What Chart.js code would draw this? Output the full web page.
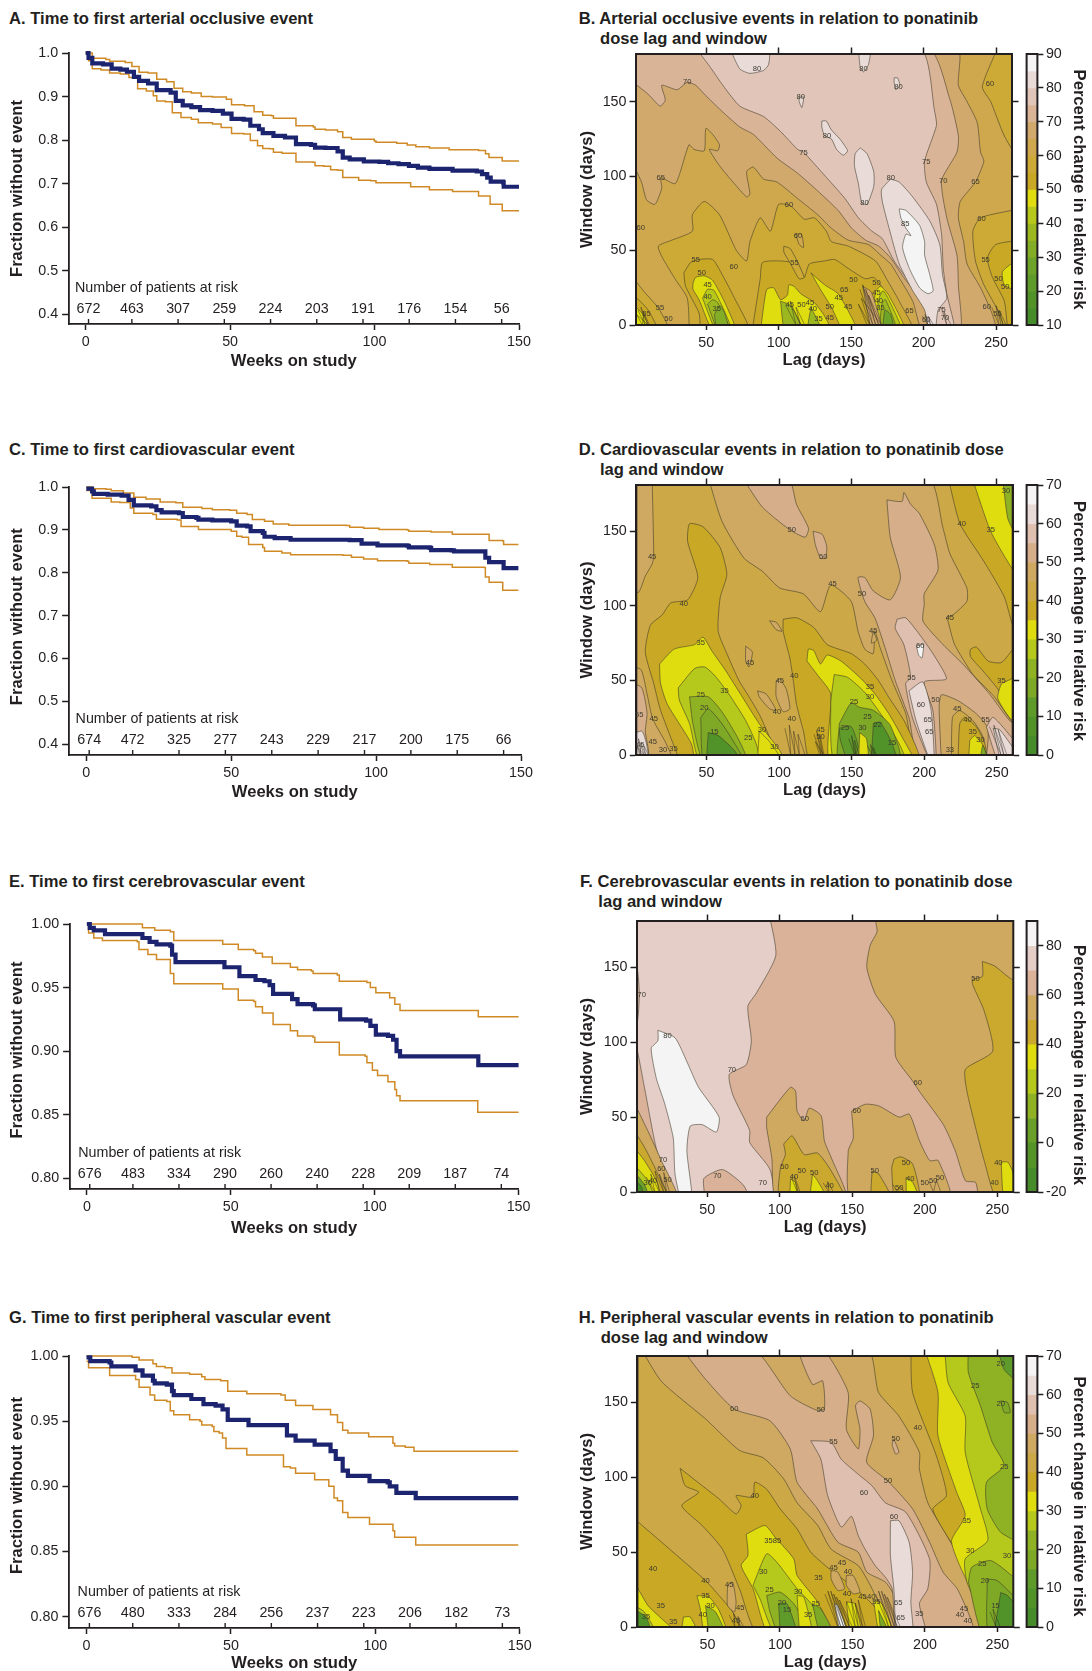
<!DOCTYPE html>
<html>
<head>
<meta charset="utf-8">
<title>Ponatinib events</title>
<script src="https://cdn.jsdelivr.net/npm/chart.js@4"></script>
<style>
  html, body { margin: 0; padding: 0; background: #fff; }
  body { position: relative; width: 1092px; height: 1671px; overflow: hidden; font-family: "Liberation Sans", Arial, sans-serif; color: #231f20; }
  canvas { position: absolute; }
  .ttl { position: absolute; font-weight: bold; font-size: 16.6px; line-height: 1; white-space: nowrap; transform: translateY(-50%); }
</style>
</head>
<body>
<script>
// survival curves, [week, fraction]
const aMid = [[0,1],[1,.989],[2.3,.976],[6,.974],[9,.964],[12,.962],[14.3,.957],[16.7,.945],[18.5,.936],[21.6,.93],[24.6,.915],[29.4,.909],[31.2,.89],[33.6,.88],[36.6,.876],[39.6,.869],[43.9,.867],[47.5,.861],[50.5,.849],[54.7,.847],[57,.833],[60,.825],[61.3,.816],[65,.81],[69,.806],[72.8,.791],[78,.789],[79.4,.783],[83,.782],[87.2,.774],[89,.76],[91.4,.756],[96.3,.751],[101.7,.75],[104.7,.747],[108.3,.745],[111.9,.741],[115,.737],[119,.734],[127,.73],[135.4,.728],[137.2,.722],[139,.714],[140.2,.705],[144.5,.703],[144.7,.693],[150,.693]];
const aUp = [[0,1],[2.3,.988],[7,.985],[8.3,.981],[13.7,.978],[16,.969],[18.5,.956],[21.6,.954],[24.6,.94],[28,.934],[30.6,.919],[33.6,.911],[36.6,.908],[40,.9],[43.9,.899],[48.7,.894],[50.5,.881],[55,.879],[58.3,.865],[61.3,.857],[64.3,.856],[65,.85],[68,.85],[72.8,.833],[78.8,.83],[79.4,.825],[83,.823],[87.2,.819],[89,.806],[92,.802],[99.9,.798],[100.5,.795],[107.7,.793],[111.3,.789],[114.3,.785],[119,.782],[125.8,.778],[136,.776],[138.4,.769],[139.6,.76],[143.9,.76],[144.2,.752],[150,.752]];
const aLow = [[0,1],[1,.982],[2.3,.964],[5.3,.961],[8.3,.954],[12,.952],[15,.944],[18,.918],[21,.913],[23.4,.902],[24.6,.89],[27.6,.888],[30,.863],[33,.852],[36.6,.848],[39,.84],[43.9,.837],[46.9,.829],[50.5,.815],[54.7,.814],[57,.799],[59.5,.787],[61.3,.781],[63.7,.78],[65,.772],[68,.77],[72.8,.75],[78.8,.749],[79.4,.741],[82.4,.74],[84.8,.732],[87.2,.731],[89,.714],[94.5,.708],[98.7,.707],[100.5,.702],[107.7,.702],[112.5,.693],[119,.686],[125.8,.686],[127,.682],[135.4,.682],[136,.672],[138.4,.672],[140,.653],[143.9,.653],[144.2,.638],[150,.638]];
const cMid = [[0,.996],[2,.99],[2.6,.984],[7.4,.982],[12.2,.98],[14.6,.97],[16.4,.957],[22.4,.955],[24.2,.946],[26,.941],[32,.939],[33.3,.93],[38,.928],[38.7,.924],[43.5,.922],[50,.92],[51.9,.91],[55.5,.908],[56.7,.897],[60.9,.893],[61.5,.884],[65,.881],[70.5,.877],[90.9,.876],[95,.868],[100.5,.864],[110.7,.863],[111.3,.859],[118.5,.858],[119,.853],[126,.852],[126.9,.85],[137,.85],[137.7,.835],[139,.825],[143.7,.825],[144,.811],[149.1,.811]];
const cUp = [[0,1],[2,.996],[6.8,.995],[8.6,.991],[12.8,.986],[16.4,.976],[20.6,.972],[25.5,.965],[30.9,.963],[33.3,.953],[39.9,.95],[43.5,.947],[49.5,.946],[51.9,.939],[55.5,.936],[57.3,.924],[61.5,.92],[64.5,.914],[69.9,.911],[89.7,.91],[90.9,.906],[95.7,.904],[101,.901],[110.7,.9],[111.3,.897],[119,.895],[126.3,.89],[137.7,.89],[139,.875],[143.7,.874],[144,.866],[149.1,.866]];
const cLow = [[0,.992],[2,.974],[7.4,.974],[8.6,.965],[11.6,.964],[15.2,.951],[16.4,.939],[23,.936],[24.2,.925],[31.4,.923],[32.7,.908],[37.5,.908],[38.7,.901],[44.7,.901],[50,.897],[51.9,.885],[53.7,.883],[56,.866],[60.9,.859],[61.5,.85],[67.5,.846],[70.5,.842],[88.5,.841],[91.5,.836],[95.7,.832],[100.5,.828],[110.7,.827],[111.3,.822],[118.5,.819],[126.3,.813],[137.3,.812],[137.7,.79],[139,.778],[143.5,.777],[143.7,.759],[149.1,.759]];
const eMid = [[0,1],[1,.997],[2.4,.995],[5.8,.995],[6.3,.992],[17.5,.992],[19.3,.989],[21.8,.986],[24.2,.984],[29,.983],[29.6,.976],[30.8,.97],[47.2,.97],[47.8,.966],[52,.966],[53,.959],[58,.959],[58.6,.956],[61.7,.955],[63.5,.952],[64.7,.945],[70.7,.945],[71.3,.941],[73.2,.937],[78.6,.936],[79.2,.933],[87,.933],[88,.925],[97,.924],[98.5,.92],[100.4,.913],[104.6,.912],[106.4,.909],[107.6,.9],[108.8,.896],[135.7,.896],[136,.889],[150,.889]];
const eUp = [[0,1],[18.7,1],[19.3,.997],[23.6,.995],[29,.994],[30.2,.987],[46.6,.987],[47.2,.984],[51.4,.984],[52.6,.98],[58,.979],[58.6,.977],[61,.974],[64,.974],[64.4,.969],[68.3,.969],[70.7,.966],[73.2,.964],[78,.963],[78.6,.961],[87,.96],[87.7,.955],[97.3,.954],[98.5,.95],[100.4,.946],[105.2,.942],[107,.937],[108.8,.932],[135.4,.932],[136,.927],[150,.927]];
const eLow = [[0,1],[.6,.993],[2.4,.989],[5.4,.987],[17.5,.986],[18.1,.98],[21.2,.976],[24.2,.972],[28.4,.972],[29,.961],[30.2,.953],[46.6,.953],[47.2,.949],[50.8,.949],[52.6,.94],[58,.939],[58.6,.935],[61,.93],[63.5,.93],[64.7,.921],[68.3,.921],[70.7,.916],[73.2,.912],[78.6,.911],[79.2,.907],[87,.907],[87.7,.897],[96.7,.896],[97.3,.891],[98.9,.891],[99.2,.885],[101,.881],[104.6,.876],[107,.87],[107.6,.865],[108.8,.861],[135.7,.861],[135.8,.852],[150,.852]];
const gMid = [[0,.999],[1.3,.996],[8,.995],[8.6,.992],[15.8,.992],[17,.989],[19.4,.985],[23,.981],[23.6,.979],[27.8,.978],[29.6,.973],[30.2,.97],[35.7,.97],[36.3,.967],[39.9,.967],[40.5,.963],[44.7,.962],[47.1,.959],[48.9,.951],[55.5,.951],[56.1,.947],[67.6,.947],[69.4,.939],[72.4,.935],[78.4,.935],[79,.932],[83.3,.932],[84.5,.927],[86.3,.921],[88.7,.912],[90.5,.908],[97.7,.908],[98,.904],[104.3,.903],[105,.9],[107.3,.899],[107.3,.895],[113.4,.895],[114,.891],[149.5,.891]];
const gUp = [[0,1],[8.3,1],[15.8,.999],[18.2,.997],[23,.994],[24.2,.992],[27.2,.991],[29.6,.987],[35.7,.986],[39.9,.984],[41,.982],[46.5,.981],[48.9,.973],[55,.973],[55.5,.971],[67.3,.97],[68.8,.966],[72.4,.962],[77.8,.962],[78.4,.959],[82,.959],[84.5,.955],[86.9,.949],[88.7,.943],[90.5,.941],[97.1,.941],[97.7,.938],[102.5,.938],[106.1,.933],[106.7,.931],[110.4,.93],[113.4,.927],[149.5,.927]];
const gLow = [[0,.996],[.7,.991],[7.3,.991],[8,.985],[15.8,.985],[17,.982],[18.2,.976],[20,.976],[22,.97],[23.6,.966],[27.8,.965],[29,.958],[30.2,.955],[35,.955],[35.7,.951],[39.3,.95],[39.9,.947],[43.5,.946],[44.1,.942],[45.9,.941],[47.1,.937],[48.3,.929],[55,.929],[55.5,.924],[67,.924],[68.2,.915],[70.6,.914],[72.4,.91],[78.4,.91],[79,.905],[82.7,.905],[83.9,.9],[85.7,.891],[86.9,.889],[88.7,.88],[90.5,.876],[97.1,.876],[98,.871],[102,.871],[106.1,.866],[106.7,.861],[109.8,.861],[114,.855],[149.5,.855]];

// patients at risk
const riskWeeks = [1,16,32,48,64,80,96,112,128,144];
const aRisk = [672,463,307,259,224,203,191,176,154,56];
const cRisk = [674,472,325,277,243,229,217,200,175,66];
const eRisk = [676,483,334,290,260,240,228,209,187,74];
const gRisk = [676,480,333,284,256,237,223,206,182,73];

// tick values
const weekTicks = [0,50,100,150];
const wideFractionTicks = [.4,.5,.6,.7,.8,.9,1];
const narrowFractionTicks = [.8,.85,.9,.95,1];
const lagTicks = [50,100,150,200,250];
const windowTicks = [0,50,100,150];
const barTicksB = [10,20,30,40,50,60,70,80,90];
const barTicksD = [0,10,20,30,40,50,60,70];
const barTicksF = [-20,0,20,40,60,80];
const barTicksH = [0,10,20,30,40,50,60,70];

// colour of each contour band, lowest first
const rampB = ['#478c2b','#529329','#5f9b2b','#6ea32a','#83ad27','#9cb820','#b7c81b','#dfdc10','#c9a826','#ccaa35','#cfa84e','#d2a96d','#dab497','#e1c5b8','#e8dbd8','#f4f4f4'];
const rampD = ['#478c2b','#529329','#5f9b2b','#7da927','#8fb124','#b5c81c','#dfdc10','#c9a826','#cda846','#cfa862','#d6af8a','#dfbfb0','#e8dbd8','#f4f4f4'];
const rampF = ['#478c2b','#559528','#6aa02a','#8fb124','#b5c81c','#dfdc10','#cba92f','#cfa960','#d9b299','#e5cec7','#f4f4f4'];
const wholePlot = [[-3,-6],[266,-6],[266,186],[-3,186]];

// panel B contours, [lag, window]
const bUp65 = [[-3,113],[5.4,96],[8.9,84],[14.7,81],[19.4,92],[18.7,99],[28.8,95],[38.1,121],[41.6,118],[48.7,117],[49.8,132],[54.5,128],[59.2,121],[58,117],[52.2,118],[59.2,107],[68.5,96],[77.9,86],[80.2,88],[77.9,103],[82.6,106],[89.6,98],[98.9,96],[113,85],[127,74],[136.4,65],[148,57],[162,54],[170.3,47],[177.3,41],[183,32],[192.5,16],[200.7,-6],[249.8,-6],[247.5,7],[239.3,25],[230,41],[227.6,56],[224,72],[225.3,83],[235.8,96],[241.6,110],[239.3,116],[237,136],[230,150],[224,161],[223,186],[-3,186]];
const bUp70 = [[-3,165],[10,155],[18.2,147],[21.8,151],[19.4,161],[30,158],[37,163],[42.8,161],[49.8,154],[61.5,143],[73.2,133],[82.6,128],[99,112],[113,102],[127,90],[141,77],[150.4,65],[160,57],[169,53],[177.3,45],[185.5,33],[195,21],[200.7,12],[205.4,-6],[225.3,-6],[224,27],[223,47],[216,72],[212.4,97],[223,116],[224,127],[218,152],[203,186],[-3,186]];
const bUp75 = [[42.8,186],[52.2,174],[61.5,161],[73.2,147],[89.6,140],[101.3,130],[113,118],[117.2,116],[129.4,103],[145.7,85],[155,72],[164.4,63],[171.5,58],[179.7,43],[187.8,32],[197,21],[204.2,11],[211.2,-6],[221.8,-6],[216,21],[213.6,38],[212.4,61],[208.9,81],[201.9,96],[200.7,110],[208.9,134],[207.7,143],[197.2,186]];
const bUp80 = [[177.3,98],[183.2,96],[192.5,86],[204.2,70],[211.2,54],[213,34],[216,18],[210,10],[207.7,-6],[204.2,-6],[200.7,10],[192.5,23],[183.2,41],[177.3,61],[171.5,83],[171,91]];
const bUp85 = [[183.2,78],[187.8,77],[197.2,67],[200.7,56],[200.7,47],[204.2,34],[206.6,23],[203,21],[197.2,25],[190.2,38],[185.5,52],[187.8,61],[191.3,60],[187.8,65],[184.3,72]];
const bIsle1 = [[66.2,186],[73.2,172],[80.2,169],[89.6,171],[93.1,175],[93.1,186]];
const bIsle2 = [[155,186],[156.3,173],[158.6,170],[162,175],[163.3,186]];
const bIsle3 = [[179.7,166],[182,166],[183.6,161],[180.8,158],[179.7,163]];
const bIsle4 = [[114.2,153],[117.2,153],[116,146],[114.2,150]];
const bIsle5 = [[129.8,137],[132.9,137],[136.4,131],[142.2,125],[147.6,117],[144.6,114],[139.9,118],[136.4,125],[131.7,127],[129.8,133]];
const bIsle6 = [[156.3,119],[161,115],[165.6,103],[165.6,93],[161,81],[157.4,82],[155,95],[152.3,107],[152.8,115]];
const bLow60 = [[38.4,-6],[37,18],[28.5,31],[19.4,46],[17,53],[26.4,57],[40.5,63],[40.5,74],[48.7,83],[59.2,74],[70.9,50],[77.9,43],[80.2,56],[87.3,72],[94.3,63],[100,81],[108.3,80],[117.7,71],[124.7,72],[132.9,63],[136.4,56],[148,53],[166.8,43],[175,30],[183.2,16],[192.5,-6]];
const bLow60Left = [[-3,35],[7.5,22],[17.3,11],[25,-6],[-3,-6]];
const bLow60Top = [[251,186],[240.5,160],[246.3,150],[255.7,127],[266,112],[266,186]];
const bLow60Right = [[266,78],[239.3,72],[234,63],[235.8,43],[241.6,27],[251,10],[255.7,-6],[266,-6]];
const bPatch60 = [[111.8,61],[115.8,61],[117.2,52],[114.2,54]];
const bLow55a = [[34.6,35],[39.3,42],[45.1,44],[54.5,44],[60.4,35],[68.5,20],[80.2,-6],[47.5,-6],[45.1,8],[35.8,26]];
const bLow55b = [[81.4,-6],[87.3,31],[88.9,42],[101.3,43],[113,41],[117.7,32],[121.2,41],[131.7,43],[138.7,44],[148,38],[159.8,31],[165.6,32],[171.5,25],[180.8,-6]];
const bPatch55 = [[103.6,53],[108.3,51],[117.7,32],[114.2,31],[108.3,41],[103.6,49]];
const bLow55Right = [[266,57],[249.8,54],[244,45],[247.5,32],[255.7,16],[259,-6],[266,-6]];
const bLow55Left = [[-3,23],[10,10],[17,-6],[-3,-6]];
const bLow50a = [[40.9,28],[42.8,32],[48.7,33],[54.5,30],[63.9,13],[70.9,-6],[55.7,-6],[45.1,17],[40.9,24]];
const bLow45a = [[47.5,18],[51,24],[55.7,23],[68.5,-6],[58,-6]];
const bLow40a = [[51,14],[54.5,17],[58,15],[67.4,-6],[59.2,-6]];
const bLow35a = [[55.7,7],[59.6,13],[62.7,8],[66.2,-6],[58,-6]];
const bLow50b = [[87.3,-6],[89.6,12],[91.9,24],[96.6,25],[101.3,17],[106,20],[107.1,27],[110.6,26],[115.3,21],[124.7,15],[131.7,6],[136.4,-6]];
const bLow50c = [[122.3,35],[131.7,27],[141,21],[150.4,5],[155,-6],[145.7,-6],[136.4,12],[129.4,23]];
const bLow50d = [[164.4,-6],[166.8,22],[170.3,26],[176,20],[187.8,-6]];
const bLow45d = [[166.8,-6],[169,17],[172,23],[176,17],[185.5,-6]];
const bLow40d = [[169,-6],[171.5,15],[173.8,17],[182,-6]];
const bLow30d = [[171.5,-6],[173.3,10],[177.3,7],[179.7,-6]];
const bLow50Right = [[266,45],[254.5,36],[255.7,27],[266,23]];
const bLow50Left = [[-3,16],[6.5,7],[11.2,-6],[-3,-6]];
const bLow35b = [[101.3,16],[108.3,13],[117.7,-6],[104.8,-6]];
const bLow40c = [[122.3,12],[130.5,-6],[120,-6]];
const bPatch65 = [[158,26],[164,22],[172,-6],[165,-6]];
const bHatchA = [[156,24],[165,0],[158,27],[167,0],[160,24],[169,0],[162,20],[171,0],[157,18],[163,0],[155,14],[161,0]];
const bHatchB = [[3,10],[8,0],[5,12],[10,0],[2,7],[6,0],[7,8],[11,0]];
const bHatchC = [[105,13],[112,0],[108,16],[115,0],[112,12],[118,0]];
const bHatchD = [[247,12],[252,0],[250,13],[255,0],[252,10],[257,0]];
const bHatchE = [[199,6],[203,0],[201,7],[205,0],[203,6],[207,0]];
const bHatchF = [[212,12],[216,0],[214,9],[219,0]];
const layersB = [[wholePlot,60],[bUp65,65],[bUp70,70],[bUp75,75],[bUp80,80],[bUp85,85],[bIsle1,80],[bIsle2,80],[bIsle3,80],[bIsle4,80],[bIsle5,80],[bIsle6,80],[bLow60,55],[bLow60Left,55],[bLow60Top,55],[bLow60Right,55],[bPatch60,60],[bLow55a,50],[bLow55b,50],[bPatch55,55],[bLow55Right,50],[bLow55Left,50],[bLow50a,45],[bLow45a,40],[bLow40a,35],[bLow35a,30],[bLow50b,45],[bLow50c,45],[bLow50d,45],[bLow45d,40],[bLow40d,35],[bLow30d,25],[bLow50Right,45],[bLow50Left,45],[bLow35b,35],[bLow40c,35],[bPatch65,65],[bHatchA,null],[bHatchB,null],[bHatchC,null],[bHatchD,null],[bHatchE,null],[bHatchF,null]];
const labelsB = [[85,172,'80'],[158.6,172,'80'],[182.7,160,'80'],[115.3,153,'80'],[133.3,127,'80'],[37,163,'70'],[117.2,115.6,'75'],[201.9,109.6,'75'],[213.6,97,'70'],[235.8,96,'65'],[245.8,162,'60'],[18.7,99,'65'],[177.3,99,'80'],[159.3,82,'80'],[187.4,68,'85'],[4.9,65,'60'],[240,71,'60'],[107.1,80.7,'60'],[113.4,60,'60'],[42.8,44,'55'],[47,35,'50'],[51,27,'45'],[51,19,'40'],[57.3,10.7,'35'],[69,39,'60'],[111,42,'55'],[151.6,30,'50'],[145.3,23.8,'65'],[141.5,18.4,'45'],[167.5,28.4,'50'],[167.5,21.3,'45'],[169.1,16,'40'],[170.3,11.8,'35'],[242.8,44,'55'],[251.7,31,'50'],[256.4,25.6,'50'],[243.5,12.2,'60'],[18.2,11.8,'55'],[24,4.4,'50'],[107.6,13.6,'45'],[115.8,13.6,'50'],[121.6,15,'45'],[123.5,10.7,'40'],[127.5,4,'35'],[135.2,12.4,'50'],[135.2,5,'45'],[148,12.2,'45'],[190.2,9.6,'65'],[212.4,10,'75'],[214.7,5,'70'],[251,7.3,'55'],[201.9,3.3,'60'],[8.9,7.3,'55']];

// panel D contours
const dUp45 = [[51.2,186],[60.5,157],[75.8,132],[88.7,123],[100.4,112],[116.8,108],[128.5,96],[135.6,114],[149.7,103],[154.4,83],[159,71],[164.9,68],[166,83],[169.6,72],[177.8,50],[187.2,28],[196.6,-6],[266,-6],[266,14],[258.9,24.4],[247.5,40],[233.6,54],[221,74],[216.4,89.7],[215.3,92],[220,94],[229.4,103],[229.4,112],[217.7,135],[213,152],[202.4,186]];
const dUp45Left = [[12.5,186],[13.6,133],[12.5,128],[7.8,120],[3.1,109],[-3,114],[-3,186]];
const dUp45Low = [[-3,60],[5,57],[9,41],[13,24],[22,8],[27,-6],[-3,-6]];
const dUp50a = [[74.6,186],[88.7,166],[107.4,151],[118,146],[120.3,152],[112,168],[106.3,186]];
const dUp50b = [[123.4,150],[129.7,148],[132.8,140],[132,132],[128.5,132],[125,141]];
const dUp50c = [[174.3,171],[184.8,170],[186,176],[190.7,168],[196.6,162],[207,141],[209.5,124],[200,108],[200,101],[199.2,89.7],[213,74],[226.8,60.8],[245,40.9],[258.9,23],[266,18],[266,-6],[197.8,-6],[189.5,25],[180,50],[173,72],[166,92],[159,103],[154.4,119],[159,119],[164.9,110],[176.6,104],[183.7,119],[176.6,146]];
const dUp50Left = [[-3,49],[5.4,45],[9,28],[7.8,16],[10,3],[9.4,-6],[-3,-6]];
const dUp55 = [[181.3,91],[187.2,92],[196.6,81],[206,68],[215.3,51],[200,49],[206,30],[208.3,-6],[204.8,-6],[191.9,25],[187.2,48],[190.7,52],[186,74],[180,85]];
const dUp60 = [[189.5,43],[199,49],[204.8,30],[207,-6],[204.8,-6],[194.4,23]];
const dHump50 = [[211.9,-6],[210.3,32],[211.9,40.4],[223.3,36.4],[236,27.6],[244,17.6],[240.5,-6]];
const dUp55Right = [[242.9,18.7],[247.5,25.3],[262,9.8],[266,5],[266,-6],[252,-6]];
const dUp60Right = [[247.5,18],[252,17],[262,4],[266,0],[266,-6],[254,-6]];
const dUp65 = [[194.7,73],[199.4,74],[198.5,65],[196.2,67]];
const dUp60Left = [[-3,13],[5.4,16],[8.5,8],[10,-6],[-3,-6]];
const dLow40Top = [[216.5,186],[224.7,155],[241,130],[255.2,106],[262,84],[266,84],[266,186]];
const dLow40Right = [[262,72],[253.2,62],[244,63],[236,72.4],[231.9,70.8],[231.9,66],[240.5,56.4],[250.9,44],[260,27],[266,22],[266,72]];
const dLow35Top = [[233,186],[245.8,150],[262,123],[266,123],[266,186]];
const dLow25Top = [[254,186],[257.5,159],[262,150],[266,150],[266,186]];
const dLow35Right = [[262,52],[258,50],[253.2,47.6],[250.7,38],[258.9,25],[266,20],[266,52]];
const dLow40a = [[32.4,-6],[18.3,30],[13.6,48],[7.8,69],[11.3,87],[19.5,94],[25.4,102],[37,104],[44,119],[37,143],[38.3,155],[47.6,153],[59.4,139],[64,121],[59.4,105.5],[58,83],[64,68],[72.3,50],[79.3,39],[88,24],[98,-6]];
const dLow40b = [[102.8,91],[112,92],[123.9,85.5],[133.2,74],[149.7,68],[159,61],[168.4,50],[175.4,39],[187.2,21],[196.6,-6],[122.7,-6],[116.8,16],[112,34],[109.8,50],[107.4,65],[102.8,83]];
const dLow35a = [[17.6,61],[27.7,71],[41.8,74],[47.6,79],[53.5,70],[62.9,57],[74.6,39],[86.3,21],[100.4,3],[104,-6],[44,-6],[39.4,8],[23,34],[18.3,48]];
const dLow30a = [[30.5,45],[41.8,58],[48.8,59],[55.9,53],[65.3,41],[77,23],[84,8],[86.3,-6],[46.5,-6],[38.3,21],[31.2,37]];
const dLow25a = [[38.3,39],[51.2,39],[60.6,29],[72.3,10],[78.2,-6],[48.8,-6],[40.6,21]];
const dLow20a = [[46,25],[51.2,31],[60.6,21],[72.3,3],[75.8,-6],[48.8,-6]];
const dLow15a = [[51.2,15],[58.2,13],[70,2],[72.3,-6],[51.2,-6]];
const dLow30m = [[86.3,16],[93.4,9],[102.8,-6],[86.3,-6]];
const dLow35b = [[119.2,63],[120.3,71],[123.9,70],[128.5,61],[133.2,67],[142.6,63],[156.7,51],[166,41],[175.4,28],[184.8,12],[193,-6],[135.6,-6],[135.6,41],[126.2,54]];
const dLow30b = [[138,54],[147.3,52],[159,42],[170.8,26.5],[182.5,8],[187.2,-6],[139,-6],[135.6,34]];
const dLow25b = [[141.5,21],[149.7,35],[155.5,32],[164.9,30],[176.6,20],[183.7,-6],[141.5,-6]];
const dLow15b = [[164.9,21],[169.6,22],[177.8,8],[181.2,-6],[164.9,-6]];
const dLow20c = [[141.5,18],[149.7,19],[154.4,5],[148.5,-6],[142.2,10]];
const dLow35c = [[155.5,15],[160.2,11],[161.4,-6],[155.5,-6]];
const dLow45c = [[218.8,-6],[219.5,25.3],[224.5,29.8],[233.6,23],[240.5,12],[241.8,-6]];
const dLow40c = [[223.3,-6],[224.5,20.9],[228,25.3],[236,18.7],[241.8,7.6],[242.9,-6]];
const dLow35d = [[231.4,9.8],[234.8,13],[240.5,6.5],[244,-6],[231.4,-6]];
const dLow20d = [[238,-6],[240.5,6.5],[244,-6]];
const dIsle1 = [[93.4,90],[98,89],[102,83],[98,84]];
const dIsle2 = [[77,73],[81.6,69],[79.3,59],[77,63]];
const dIsle3 = [[85.2,43],[91,41],[98,30],[93.4,31],[86.3,39]];
const dIsle4 = [[98,49],[100.4,51],[105,44],[107.4,31],[102.8,29],[98,39]];
const dIsle5 = [[164.9,83],[167.3,77],[163.6,75]];
const dHatchA = [[1,9],[5,0],[3,11],[7,0],[2,6],[4,0],[5,8],[8,0],[7,6],[10,0]];
const dHatchB = [[124,14],[129,0],[126,16],[130,0],[128,14],[131,0],[125,9],[128,0]];
const dHatchC = [[148,11],[152,0],[150,13],[153,0],[152,10],[155,0]];
const dHatchD = [[161,6],[164,0],[163,7],[166,0],[165,5],[167,0]];
const dHatchE = [[245,19],[253,0],[248,20],[255,0],[251,17],[257,0]];
const dHatchF = [[104,18],[108,0],[107,20],[111,0],[110,16],[114,0],[113,14],[118,0]];
const layersD = [[wholePlot,40],[dUp45,45],[dUp45Left,45],[dUp45Low,45],[dUp50a,50],[dUp50b,50],[dUp50c,50],[dUp50Left,50],[dUp55,55],[dUp60,60],[dHump50,45],[dUp55Right,55],[dUp60Right,60],[dUp65,65],[dUp60Left,60],[dLow40Top,35],[dLow40Right,35],[dLow35Top,30],[dLow25Top,20],[dLow35Right,30],[dLow40a,35],[dLow40b,35],[dLow35a,30],[dLow30a,25],[dLow25a,20],[dLow20a,15],[dLow15a,5],[dLow30m,30],[dLow35b,30],[dLow30b,25],[dLow25b,15],[dLow15b,5],[dLow20c,10],[dLow35c,30],[dLow45c,40],[dLow40c,35],[dLow35d,30],[dLow20d,15],[dIsle1,45],[dIsle2,45],[dIsle3,45],[dIsle4,45],[dIsle5,45],[dHatchA,null],[dHatchB,null],[dHatchC,null],[dHatchD,null],[dHatchE,null],[dHatchF,null]];
const labelsD = [[108.7,151,'50'],[130.4,133,'50'],[12.5,133,'45'],[225.9,155,'40'],[245.8,150.8,'35'],[256.4,176.8,'30'],[136.8,115,'45'],[157.2,108,'50'],[34.3,101,'40'],[217.7,91.8,'45'],[164.9,83.3,'45'],[46,75,'35'],[80,61.5,'45'],[197.3,72.8,'60'],[110.5,52.8,'40'],[100.4,49.9,'45'],[191.2,52,'55'],[253.3,49.4,'35'],[162.6,45.4,'35'],[162.6,39,'30'],[46,40.5,'25'],[62.4,42.8,'35'],[207.8,37,'50'],[151.6,35.4,'25'],[197.7,33.8,'60'],[222.8,31,'45'],[48.4,31.4,'20'],[98.5,29,'40'],[161,25.8,'25'],[202.4,23.6,'65'],[13.6,24.3,'45'],[3.6,27,'55'],[108.7,24.3,'40'],[229.9,23.6,'40'],[242.3,23.6,'55'],[145.4,18,'25'],[157.4,18,'30'],[88.2,16.5,'30'],[55.4,15.8,'15'],[168,20.5,'22'],[233.4,15.8,'35'],[78.8,11.6,'25'],[128.5,17,'45'],[128.5,12,'50'],[238.8,9.8,'30'],[203.5,15.4,'65'],[27.2,4.2,'35'],[20,3.6,'30'],[177.8,8,'15'],[13,8.7,'45'],[4.3,6.5,'45'],[96.9,5.3,'30'],[217.7,3.6,'33']];

// panel F contours
const fUp70 = [[92.6,186],[97.3,158],[84,133],[78,124],[80.4,101],[76.9,85],[65.2,78.6],[67.6,65],[79.3,41],[79.3,33],[93.3,15],[95.7,-6],[81.6,-6],[74.6,5],[60.5,15],[47.7,9],[47.7,-6],[30,-6],[16,25],[6.7,70],[1.3,97],[-3,110],[-3,186]];
const fLeftStrip = [[-3,150],[1.5,150],[3.2,132],[1.5,112],[-3,112]];
const fUp80 = [[16,108],[27.8,103],[36,87],[44,70],[58.2,50],[56.3,40],[46.5,45],[38.3,44],[36,27.5],[39.5,-6],[32.4,-6],[27.8,12],[26.6,36],[20.7,59],[14.9,76],[11.4,96],[16,101]];
const fLow60 = [[164.8,186],[167.1,174],[162.4,165],[160,150],[166,132],[178.8,114],[180,90],[191.7,74],[196.4,67],[212.8,45],[221,27.5],[228,7.5],[235,6.4],[238.6,-6],[266,-6],[266,186]];
const fLow50 = [[239.7,154],[248,151],[260,142],[266,142],[266,-6],[250,-6],[240.9,21],[235,43],[229,67.5],[228,82],[246.8,94],[240.9,121],[233,138.5],[233,142],[239.7,144]];
const fLow40Right = [[252.6,20],[257.2,20],[260,15],[266,-6],[255,-6]];
const fLow60a = [[91,50],[107.4,70],[110.9,67.5],[112,54],[116.8,47.5],[120.3,56],[128.5,51],[130.8,34],[135.5,23],[146,-6],[98,-6],[94.5,23],[91,43]];
const fLow60b = [[149.5,54],[158.9,58.6],[168.3,57.5],[182.3,50],[189.3,52],[196.4,34],[203.4,21],[209.3,21],[217.5,-6],[149.5,-6],[147.2,27.5],[150.7,36]];
const fLow50a = [[102.7,32],[108.5,37.5],[116.8,25],[126.1,26],[135.5,14],[144.9,-6],[100.4,-6],[100.4,16],[103.9,25]];
const fLow50b = [[163.6,14],[168.3,12],[177.6,-6],[163.6,-6]];
const fLow50c = [[178.8,22],[183.5,23.5],[191.7,18.6],[196.4,-6],[180,-6],[177.2,16]];
const fLow40a = [[107.4,8.7],[110.9,6.4],[113.2,-6],[107.4,-6]];
const fLow40b = [[122.6,12],[126.1,7.5],[133.1,-6],[121.4,-6]];
const fLow40c = [[187,9.8],[191.7,6.4],[196.4,-6],[188.2,-6]];
const fCorner60 = [[-3,65],[9,41],[18.4,21],[30,-6],[-3,-6]];
const fCorner50 = [[-3,45],[6.7,30],[16,12],[23,-6],[-3,-6]];
const fCorner40 = [[-3,33],[6.7,21],[14.9,7.5],[18.4,-6],[-3,-6]];
const fCorner30 = [[-3,21],[9,7.5],[13.7,-6],[-3,-6]];
const fCorner10 = [[-3,16],[6.7,5],[10,-6],[-3,-6]];
const fCornerLow = [[-3,10],[4.3,4],[6.7,-6],[-3,-6]];
const fHatchA = [[8,10],[14,0],[11,12],[17,0],[14,14],[20,0],[17,12],[22,0],[20,13],[24,0]];
const fHatchB = [[108,10],[112,0],[110,11],[114,0]];
const fHatchC = [[130,6],[134,0],[133,7],[137,0]];
const fHatchD = [[178,5],[181,0],[183,4],[186,0]];
const fHatchE = [[203,7],[206,0],[208,8],[211,0]];
const layersF = [[wholePlot,60],[fUp70,70],[fLeftStrip,60],[fUp80,80],[fLow60,50],[fLow50,40],[fLow40Right,30],[fLow60a,50],[fLow60b,50],[fLow50a,40],[fLow50b,40],[fLow50c,40],[fLow40a,30],[fLow40b,30],[fLow40c,30],[fCorner60,50],[fCorner50,40],[fCorner40,30],[fCorner30,20],[fCorner10,0],[fCornerLow,-20],[fHatchA,null],[fHatchB,null],[fHatchC,null],[fHatchD,null],[fHatchE,null]];
const labelsF = [[4.8,131.8,'70'],[22.6,104.5,'80'],[235,142.5,'50'],[67,81.4,'70'],[195.2,73,'60'],[117.2,48.6,'60'],[153,54,'60'],[19.5,21.5,'70'],[187,19.7,'50'],[250.7,19.7,'40'],[103.2,17,'50'],[165.5,13.8,'50'],[115.1,13.8,'50'],[123.8,12.6,'50'],[18.4,15.3,'60'],[57,10.9,'70'],[88.2,5.8,'70'],[109.8,9.8,'40'],[190,8.7,'40'],[200,6.4,'50'],[205.8,7.5,'50'],[210.4,9.3,'50'],[248,5.8,'40'],[22.6,8,'50'],[12.5,7.5,'40'],[9,6.4,'30'],[134.3,4.2,'40'],[182.3,3,'50']];

// panel H contours
const hUp45 = [[4,186],[18.2,164],[48.6,139],[72,118],[88.4,113],[102.5,99],[111.8,83],[125.9,68],[135.3,52],[154,41],[162.2,28],[169.2,14],[178.6,-6],[241.8,-6],[237.1,14],[224.2,45.5],[212.5,65.5],[202,83],[196.2,105.5],[196.2,116.7],[182,141],[168,156.7],[159.9,186]];
const hUp50 = [[32.2,186],[48.6,165.5],[68.5,145.5],[93,137.8],[107.1,118.9],[111.8,96.7],[125.9,78.9],[139.9,56.7],[154,50],[159.9,36.7],[172.7,30],[178.6,21],[182.1,-6],[233.6,-6],[223,24.4],[212.5,36.7],[203.2,56.7],[191.5,78.9],[174.6,97.3],[159.8,110],[164.5,127.8],[162.2,145.5],[155.2,151],[152.1,147.8],[155.2,132],[154,118.9],[145.8,132],[147,156.7],[129.4,186],[113,186],[122.4,162],[129.4,164.4],[130.6,145.5],[124.7,145],[107.1,154.4],[81.4,186]];
const hUp55 = [[121.2,124.4],[135.3,123.3],[142.3,112],[154,102],[163.4,94.4],[172.7,83],[186.8,76.7],[203.2,45.5],[202,25.6],[196.2,15.6],[200.8,-6],[181,-6],[177.4,25.6],[172.7,33.3],[165.7,41],[158.7,52],[154,61],[149.3,74],[142.3,66.7],[132.9,87.8],[128.2,112]];
const hUp60 = [[176.2,71],[182.1,71],[189.1,56.7],[191.5,36.7],[190.3,16.7],[191.5,-6],[181,-6],[178.6,25.6],[176.2,47.8]];
const hIsle50 = [[178.6,125.5],[182.1,116.7],[179.8,115.5],[177.4,122]];
const hLow40Right = [[190.3,186],[191.5,156.7],[207.9,114.4],[214.9,87.8],[205.5,78.9],[213.7,63.3],[226.6,43.3],[240.6,10],[244.1,-6],[266,-6],[266,186]];
const hLow35Right = [[199.7,186],[209,156.7],[209,127.8],[221.9,90],[227.8,74.4],[218.4,57.8],[223,43.3],[233.6,21],[243,-6],[266,-6],[266,186]];
const hLow30Right = [[213.7,186],[216,163.3],[227.8,141],[227.8,116.7],[238.3,78.9],[243.4,57.8],[227.8,45.5],[229,30],[238.3,10],[240.6,-6],[266,-6],[266,186]];
const hLow25Right = [[230,186],[230,170],[238.3,147.8],[246.5,123.3],[254.7,107.8],[242.5,96.7],[243,78.9],[252.3,63.3],[266,57.8],[266,186]];
const hLow20Top = [[250,186],[254.7,172],[261.7,165.5],[266,165],[266,186]];
const hIsle20 = [[252.3,151],[257,150],[258.9,143.3],[254.7,143.3]];
const hLow25Low = [[230,30],[232.4,40],[245.3,44.4],[257,36.7],[266,27.8],[266,-6],[240.6,-6]];
const hLow20Low = [[243,32],[250,31],[266,14.4],[266,-6],[244.2,-6]];
const hLow10Low = [[252.3,23],[257,21],[266,10],[266,-6],[248.8,-6]];
const hLow40a = [[31,106],[46.3,94.4],[58,85.5],[69.7,75.5],[73.2,81],[69.7,87.8],[81.4,86.7],[82.6,96.7],[90.8,92],[100.1,78.9],[111.8,65.5],[121.2,50],[135.3,37.8],[149.3,27.8],[158.7,20],[172.7,5.5],[176.2,-6],[86.1,-6],[72,25.6],[60.3,52],[46.3,67.8],[32.2,81],[43.9,90],[34.5,94.4]];
const hLow40b = [[-3,74.4],[18.2,56.7],[48.6,31],[58,21],[67.3,10],[74.4,-6],[-3,-6]];
const hLow35a = [[76.7,62],[89.6,67.8],[96.6,60],[109.5,45.5],[111.8,34.4],[125.9,16.7],[135.3,-6],[93.1,-6],[81.4,25.6],[73.2,41],[77.9,47.8]];
const hLow30a = [[81.4,27.8],[90.8,48.9],[97.8,43.3],[111.8,25.6],[122.4,14.4],[130.6,-6],[97.8,-6],[86.1,18.9]];
const hLow25a = [[90.8,21],[100.1,23.3],[109.5,15.6],[114.2,7.8],[121.2,-6],[100.1,-6],[93.1,10]];
const hLow20a = [[99,15.6],[104.8,15.6],[111.8,-6],[101.3,-6]];
const hLow35b = [[111.8,21],[116.5,20],[122.4,-6],[114.4,-6]];
const hLow35c = [[-3,34.4],[8.8,14.4],[15.8,7.8],[29.9,-6],[-3,-6]];
const hLow30c = [[-3,15.6],[6.4,10],[14.6,-6],[-3,-6]];
const hLow15c = [[-3,13],[7.6,6.7],[11.1,-6],[-3,-6]];
const hLow35d = [[42.7,21],[51,20],[58,11],[63.8,-6],[48.6,-6],[45,12]];
const hLow25d = [[48.6,14.4],[55.6,10],[62.6,-6],[52.1,-6]];
const hLow35e = [[33.4,6.7],[38,6.7],[43.9,-6],[32.2,-6]];
const hIsle45a = [[63.8,27.8],[67.3,30],[69.7,16.7],[68.5,10],[63.8,14.4]];
const hIsle45b = [[135.3,37.8],[139.9,36.7],[144.6,25.6],[139.9,24.4],[135.3,32]];
const hIsle45c = [[145.8,34.4],[150.5,34.4],[155.2,23.3],[150.5,22.2],[145.8,27.8]];
const hLow35f = [[145.8,16.7],[151.6,15.6],[156.3,-6],[149.3,-6]];
const hLow35g = [[164.5,17.8],[170.4,15.6],[178.6,-6],[169.2,-6]];
const hLow20g = [[168,11],[176.2,-6],[170.4,-6]];
const hLow20h = [[122.4,15.6],[128.2,12.2],[137.6,-6],[128.2,-6]];
const hPatch65 = [[137.6,15.6],[139.9,14.4],[147,-6],[142.3,-6]];
const hHatchA = [[131,22],[140,0],[133,24],[142,0],[135,24],[144,0],[137,22],[146,0],[139,20],[148,0],[141,18],[150,0]];
const hHatchB = [[166,22],[175,0],[168,24],[177,0],[170,24],[179,0],[172,22],[181,0],[174,20],[183,0]];
const hHatchC = [[146,17],[152,0],[149,19],[154,0],[152,16],[157,0],[154,18],[159,0]];
const hHatchD = [[65,8],[69,0],[68,9],[72,0],[71,7],[75,0]];
const hHatchE = [[245,10],[249,0],[247,12],[252,0]];
const layersH = [[wholePlot,40],[hUp45,45],[hUp50,50],[hUp55,55],[hUp60,60],[hIsle50,50],[hLow40Right,35],[hLow35Right,30],[hLow30Right,25],[hLow25Right,20],[hLow20Top,10],[hIsle20,15],[hLow25Low,20],[hLow20Low,15],[hLow10Low,5],[hLow40a,35],[hLow40b,35],[hLow35a,30],[hLow30a,25],[hLow25a,20],[hLow20a,10],[hLow35b,30],[hLow35c,30],[hLow30c,25],[hLow15c,5],[hLow35d,30],[hLow25d,20],[hLow35e,30],[hIsle45a,45],[hIsle45b,45],[hIsle45c,45],[hLow35f,30],[hLow35g,30],[hLow20g,15],[hLow20h,15],[hPatch65,65],[hHatchA,null],[hHatchB,null],[hHatchC,null],[hHatchD,null],[hHatchE,null]];
const labelsH = [[252.4,175.5,'20'],[234.8,161,'25'],[252.4,148.9,'20'],[68.5,145.5,'60'],[128.2,145,'50'],[195,133.3,'40'],[136.9,123.3,'55'],[179.8,125.5,'50'],[254.7,107,'25'],[174.6,97.3,'50'],[158,89.5,'60'],[82.6,87.3,'40'],[228.9,71,'35'],[178.6,73.3,'60'],[95,57.8,'3585'],[231.3,51,'30'],[256.6,47.3,'30'],[142.8,42.7,'45'],[136.9,39.3,'45'],[146.9,36.7,'40'],[239.5,42,'25'],[126.6,32.9,'35'],[48.6,31,'40'],[65,28.4,'45'],[88.4,37,'30'],[241.4,31,'20'],[12.3,38.9,'40'],[92.7,24.9,'25'],[112.5,23.3,'30'],[48.6,21,'35'],[52.1,14.4,'30'],[17.7,14,'35'],[146.3,21.8,'40'],[162.9,20,'40'],[157,20,'45'],[181.6,16.2,'65'],[101.3,16.2,'20'],[104.8,11.1,'15'],[72.5,12.7,'45'],[124.7,15.6,'25'],[166.4,16.7,'35'],[227,11.8,'45'],[196.1,8.9,'35'],[224.2,8.2,'40'],[229.6,4.4,'40'],[7.6,6.7,'35'],[26.3,3.3,'35'],[46.7,7.8,'40'],[248.8,14.4,'15'],[119.4,7.8,'35'],[183.3,6,'65'],[69.7,3.8,'45']];

const INK = '#231f20';
const NAVY = '#1c2470';
const ORANGE = '#cf8a26';
const SANS = '"Liberation Sans", Arial, sans-serif';
const TICK_FONT = { family: SANS, size: 14.3 };
const AXIS_FONT = { family: SANS, size: 16.6, weight: 'bold', lineHeight: 1.2 };
const AXIS_HALF = 10;

function toPoints(rows) {
  return rows.map(r => ({ x: r[0], y: r[1] }));
}

function addCanvas(left, top, width, height) {
  const canvas = document.createElement('canvas');
  canvas.width = width;
  canvas.height = height;
  canvas.style.left = left + 'px';
  canvas.style.top = top + 'px';
  canvas.style.width = width + 'px';
  canvas.style.height = height + 'px';
  document.body.appendChild(canvas);
  return canvas;
}

function addTitle(text, left, y) {
  const div = document.createElement('div');
  div.className = 'ttl';
  div.textContent = text;
  div.style.left = left + 'px';
  div.style.top = y + 'px';
  document.body.appendChild(div);
}

function fixedTicks(values) {
  return scale => { scale.ticks = values.map(value => ({ value })); };
}

function tickGrid(length) {
  return { drawOnChartArea: false, tickLength: length, tickColor: INK, tickWidth: 1.5 };
}

// numbers at risk sit inside the plot, on short ticks rising from the x axis
const riskTable = {
  id: 'riskTable',
  afterDatasetsDraw(chart, args, opts) {
    const { ctx, chartArea, scales } = chart;
    ctx.save();
    ctx.strokeStyle = INK;
    ctx.lineWidth = 1.4;
    ctx.fillStyle = INK;
    ctx.font = '14.3px ' + SANS;
    ctx.textAlign = 'center';
    ctx.textBaseline = 'middle';
    riskWeeks.forEach((week, i) => {
      const x = scales.x.getPixelForValue(week);
      ctx.beginPath();
      ctx.moveTo(x, chartArea.bottom);
      ctx.lineTo(x, chartArea.bottom - 5);
      ctx.stroke();
      ctx.fillText(String(opts.counts[i]), x, chartArea.bottom - 15);
    });
    ctx.textAlign = 'left';
    ctx.fillText('Number of patients at risk', scales.x.getPixelForValue(opts.headingWeek), chartArea.bottom - 35.5);
    ctx.restore();
  }
};

const plotFrame = {
  id: 'plotFrame',
  afterDatasetsDraw(chart) {
    const { ctx, chartArea: a } = chart;
    ctx.save();
    ctx.strokeStyle = INK;
    ctx.lineWidth = 2;
    ctx.strokeRect(a.left, a.top, a.right - a.left, a.bottom - a.top);
    ctx.restore();
  }
};

const contourText = {
  id: 'contourText',
  afterDraw(chart, args, opts) {
    const { ctx, scales } = chart;
    ctx.save();
    ctx.fillStyle = '#3b3a30';
    ctx.font = '7.6px ' + SANS;
    ctx.textAlign = 'center';
    ctx.textBaseline = 'middle';
    opts.items.forEach(([lag, win, text]) => {
      ctx.fillText(text, scales.x.getPixelForValue(lag), scales.y.getPixelForValue(win));
    });
    ctx.restore();
  }
};

// the library always centres a vertical axis title on its axis, these sit a little off centre
const sideTitle = {
  id: 'sideTitle',
  afterDraw(chart, args, opts) {
    const { ctx, chartArea: a } = chart;
    ctx.save();
    ctx.translate(opts.x, (a.top + a.bottom) / 2 + opts.shift);
    ctx.rotate(opts.angle);
    ctx.fillStyle = INK;
    ctx.font = 'bold 16.6px ' + SANS;
    ctx.textAlign = 'center';
    ctx.textBaseline = 'middle';
    ctx.fillText(opts.text, 0, 0);
    ctx.restore();
  }
};

function survivalChart(p) {
  const width = 546, padTop = 15, below = 50;
  const canvas = addCanvas(0, p.top - padTop, width, Math.round(p.bottom - p.top + padTop + below));
  const line = (rows, color, w) => ({ data: toPoints(rows), showLine: true, stepped: true, borderColor: color, borderWidth: w, pointRadius: 0, clip: false, borderJoinStyle: 'miter' });
  return new Chart(canvas, {
    type: 'scatter',
    data: { datasets: [line(p.mid, NAVY, 4.2), line(p.up, ORANGE, 1.5), line(p.low, ORANGE, 1.5)] },
    plugins: [riskTable, sideTitle],
    options: {
      responsive: false, animation: false, events: [], devicePixelRatio: 1,
      layout: { padding: { top: padTop, right: width - p.right, left: 0, bottom: 0 } },
      plugins: {
        legend: { display: false }, tooltip: { enabled: false },
        riskTable: { counts: p.risk, headingWeek: p.headingWeek },
        sideTitle: { text: 'Fraction without event', x: 17.2, angle: -Math.PI / 2, shift: p.titleShift }
      },
      scales: {
        x: {
          type: 'linear', min: p.xMin, max: 150, afterBuildTicks: fixedTicks(weekTicks),
          afterFit: s => { s.height = below; },
          border: { color: INK, width: 1.8 }, grid: tickGrid(6),
          ticks: { color: INK, font: TICK_FONT, padding: 3, maxRotation: 0, autoSkip: false },
          title: { display: true, text: 'Weeks on study', color: INK, font: AXIS_FONT, padding: { top: 0, bottom: below - AXIS_HALF - p.xTitleGap } }
        },
        y: {
          type: 'linear', min: p.yMin, max: 1, afterBuildTicks: fixedTicks(p.yTicks),
          afterFit: s => { s.width = p.left; },
          border: { color: INK, width: 1.8 }, grid: tickGrid(6.5),
          ticks: { color: INK, font: TICK_FONT, padding: 4, autoSkip: false, callback: v => v.toFixed(p.yDigits) }
        }
      }
    }
  });
}

function contourChart(p) {
  const canvasLeft = 560, canvasWidth = 466, padTop = 4, topRoom = 8, rightRoom = 8, below = 48;
  const canvasTop = p.top - padTop - topRoom;
  const canvas = addCanvas(canvasLeft, canvasTop, canvasWidth, Math.round(p.bottom - canvasTop + below));
  const datasets = p.layers.map(([rows, level], i) => {
    const closed = level === null ? rows : rows.concat([rows[0]]);
    return {
      data: toPoints(closed), showLine: true, pointRadius: 0, order: -i,
      tension: level === null ? 0 : 0.2, capBezierPoints: false,
      fill: level === null ? false : 'shape',
      backgroundColor: level === null ? 'transparent' : p.ramp[Math.round((level - p.barMin) / p.barStep)],
      borderColor: level === null ? 'rgba(50,42,30,.75)' : 'rgba(60,55,40,.8)',
      borderWidth: level === null ? 0.6 : 0.7,
      xAxisID: 'x', yAxisID: 'y'
    };
  });
  const frameless = { color: INK, width: 2 };
  return new Chart(canvas, {
    type: 'scatter',
    data: { datasets },
    plugins: [plotFrame, contourText],
    options: {
      responsive: false, animation: false, events: [], devicePixelRatio: 1,
      layout: { padding: { top: padTop, left: 0, bottom: 0, right: canvasWidth - (p.right - canvasLeft) - rightRoom } },
      plugins: { legend: { display: false }, tooltip: { enabled: false }, contourText: { items: p.labels } },
      scales: {
        x: {
          type: 'linear', position: 'bottom', min: 1.6, max: 261, afterBuildTicks: fixedTicks(lagTicks),
          afterFit: s => { s.height = below; },
          border: frameless, grid: tickGrid(5),
          ticks: { color: INK, font: TICK_FONT, padding: 4, maxRotation: 0, autoSkip: false },
          title: { display: true, text: 'Lag (days)', color: INK, font: AXIS_FONT, padding: { top: 0, bottom: below - AXIS_HALF - 35.2 } }
        },
        xTop: {
          type: 'linear', position: 'top', min: 1.6, max: 261, afterBuildTicks: fixedTicks(lagTicks),
          afterFit: s => { s.height = topRoom; },
          border: frameless, grid: tickGrid(6.5), ticks: { display: false }
        },
        y: {
          type: 'linear', position: 'left', min: 0, max: p.yMax, afterBuildTicks: fixedTicks(windowTicks),
          afterFit: s => { s.width = p.left - canvasLeft; },
          border: frameless, grid: tickGrid(6.5),
          ticks: { color: INK, font: TICK_FONT, padding: 3, autoSkip: false },
          title: { display: true, text: 'Window (days)', color: INK, font: AXIS_FONT, padding: { top: 17, bottom: 0 } }
        },
        yRight: {
          type: 'linear', position: 'right', min: 0, max: p.yMax, afterBuildTicks: fixedTicks(windowTicks),
          afterFit: s => { s.width = rightRoom; },
          border: frameless, grid: tickGrid(6.5), ticks: { display: false }
        }
      }
    }
  });
}

function colourBar(p) {
  const canvasLeft = 1018, canvasWidth = 74, padTop = 12, barLeft = 1026.6, barRight = 1037.4;
  const barMax = p.barMin + p.ramp.length * p.barStep;
  const canvas = addCanvas(canvasLeft, p.top - padTop, canvasWidth, Math.round(p.bottom - p.top + 2 * padTop));
  // each band runs to the top and the next one paints over it, so no seams show
  const datasets = p.ramp.map((color, i) => ({
    data: [[p.barMin + i * p.barStep, barMax]], order: -i,
    backgroundColor: color, borderWidth: 0, barPercentage: 1, categoryPercentage: 1, grouped: false
  }));
  return new Chart(canvas, {
    type: 'bar',
    data: { labels: [''], datasets },
    plugins: [plotFrame, sideTitle],
    options: {
      responsive: false, animation: false, events: [], devicePixelRatio: 1,
      layout: { padding: { top: padTop, bottom: padTop, left: barLeft - canvasLeft, right: 0 } },
      plugins: {
        legend: { display: false }, tooltip: { enabled: false },
        sideTitle: { text: 'Percent change in relative risk', x: 61, angle: Math.PI / 2, shift: p.barTitleShift }
      },
      scales: {
        x: { display: false },
        y: {
          type: 'linear', position: 'right', min: p.barMin, max: barMax,
          afterBuildTicks: fixedTicks(p.barTicks),
          afterFit: s => { s.width = canvasLeft + canvasWidth - barRight; },
          border: { color: INK, width: 2 }, grid: tickGrid(6),
          ticks: { color: INK, font: TICK_FONT, padding: 2.5, autoSkip: false }
        }
      }
    }
  });
}

addTitle('A. Time to first arterial occlusive event', 9, 18.7);
addTitle('C. Time to first cardiovascular event', 9, 450);
addTitle('E. Time to first cerebrovascular event', 9, 881.7);
addTitle('G. Time to first peripheral vascular event', 9, 1317.7);
addTitle('B. Arterial occlusive events in relation to ponatinib', 578.7, 18.7);
addTitle('dose lag and window', 600, 39.3);
addTitle('D. Cardiovascular events in relation to ponatinib dose', 578.7, 450);
addTitle('lag and window', 600, 470.3);
addTitle('F. Cerebrovascular events in relation to ponatinib dose', 580, 881.7);
addTitle('lag and window', 598.3, 901.7);
addTitle('H. Peripheral vascular events in relation to ponatinib', 578.7, 1317.7);
addTitle('dose lag and window', 600.7, 1337.7);

survivalChart({ top: 52.8, bottom: 324.2, left: 68.6, right: 519, xMin: -5.9, yMin: .378, yTicks: wideFractionTicks, yDigits: 1, mid: aMid, up: aUp, low: aLow, risk: aRisk, headingWeek: -3.7, xTitleGap: 37.5, titleShift: 0 });
survivalChart({ top: 486.5, bottom: 754.8, left: 68.6, right: 521, xMin: -6.1, yMin: .375, yTicks: wideFractionTicks, yDigits: 1, mid: cMid, up: cUp, low: cLow, risk: cRisk, headingWeek: -3.7, xTitleGap: 37.6, titleShift: -4.3 });
survivalChart({ top: 923.8, bottom: 1189, left: 69.6, right: 518.6, xMin: -6, yMin: .7917, yTicks: narrowFractionTicks, yDigits: 2, mid: eMid, up: eUp, low: eLow, risk: eRisk, headingWeek: -3, xTitleGap: 39.3, titleShift: -6.4 });
survivalChart({ top: 1355.8, bottom: 1627.4, left: 68.9, right: 519.7, xMin: -6.1, yMin: .7913, yTicks: narrowFractionTicks, yDigits: 2, mid: gMid, up: gUp, low: gLow, risk: gRisk, headingWeek: -3.1, xTitleGap: 35.3, titleShift: -6.4 });

const panelB = { top: 54, bottom: 325, left: 636, right: 1012, yMax: 182, layers: layersB, labels: labelsB, ramp: rampB, barMin: 10, barStep: 5, barTicks: barTicksB, barTitleShift: 0 };
const panelD = { top: 485, bottom: 755.4, left: 636.3, right: 1012.7, yMax: 181, layers: layersD, labels: labelsD, ramp: rampD, barMin: 0, barStep: 5, barTicks: barTicksD, barTitleShift: 1 };
const panelF = { top: 921, bottom: 1192, left: 637, right: 1013.3, yMax: 181, layers: layersF, labels: labelsF, ramp: rampF, barMin: -20, barStep: 10, barTicks: barTicksF, barTitleShift: 8.5 };
const panelH = { top: 1356.4, bottom: 1627.4, left: 637.4, right: 1013.3, yMax: 181, layers: layersH, labels: labelsH, ramp: rampD, barMin: 0, barStep: 5, barTicks: barTicksH, barTitleShift: 5 };
[panelB, panelD, panelF, panelH].forEach(p => { contourChart(p); colourBar(p); });
</script>
</body>
</html>
